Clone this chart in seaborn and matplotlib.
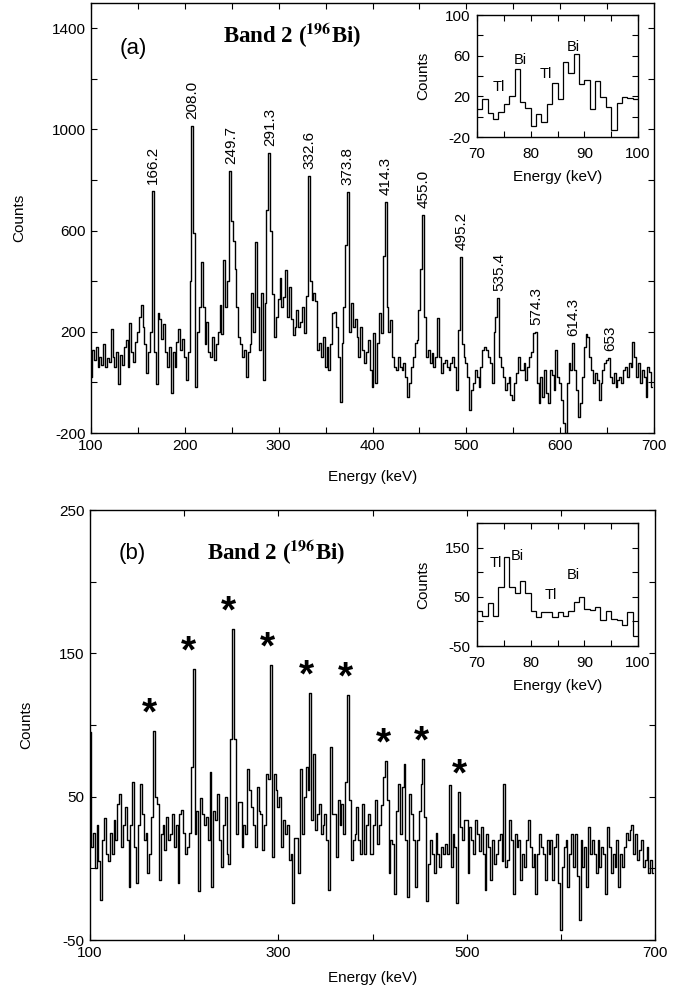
"""Gated gamma spectra of band 2 in 196Bi, with x-ray insets."""

import matplotlib.pyplot as plt
import numpy as np
import pandas as pd
import seaborn as sns
from matplotlib.ticker import FixedLocator, MultipleLocator

# ---- data ---------------------------------------------------------------
# main spectra: 2 keV bins, centres 100..698 keV
energy = np.arange(100, 700, 2)

counts_a = [
    20, 130, 90, 140, 60, 100, 70, 150, 60, 95,
    80, 210, 100, 60, 120, -5, 110, 70, 140, 168,
    60, 233, 120, 80, 160, 200, 260, 305, 220, 150,
    36, 120, 200, 755, 120, -5, 273, 250, 170, 230,
    120, 60, 140, -43, 120, 60, 160, 210, 130, 170,
    100, 10, 120, 400, 1014, 590, -17, 200, 300, 475,
    300, 150, 240, 120, 100, 180, 90, 150, 200, 306,
    190, 484, 300, 400, 836, 640, 560, 450, 300, 180,
    150, 100, 130, 23, 120, 150, 352, 200, 557, 300,
    130, 352, 10, 313, 682, 907, 600, 350, 180, 260,
    330, 412, 300, 339, 445, 260, 379, 250, 188, 221,
    286, 220, 240, 300, 194, 340, 816, 400, 326, 352,
    320, 128, 155, 102, 180, 62, 141, 49, 150, 273,
    280, 221, 100, -76, 155, 300, 543, 754, 200, 313,
    221, 250, 181, 102, 221, 128, 76, 120, 168, 50,
    -17, 194, -3, 155, 273, 194, 500, 715, 300, 200,
    247, 102, 60, 49, 102, 60, 49, 76, 23, -56,
    -3, 60, 102, 155, 168, 286, 450, 662, 260, 102,
    128, 76, 115, 62, 102, 253, 102, 36, 76, 89,
    60, 49, 76, 102, 60, -30, 207, 497, 150, 102,
    76, 23, -109, -30, -3, 49, 20, -17, 62, 128,
    141, 130, 102, 76, -3, 200, 260, 333, 100, 60,
    23, -30, -3, 23, -50, -69, -3, 36, 102, 49,
    49, 76, 10, 62, 102, 120, 194, 201, -3, -83,
    23, -56, 49, -40, -83, 49, 30, -30, 128, 23,
    -3, -69, -162, -200, -3, 76, 49, 156, 49, -30,
    -135, -83, 23, 141, 190, 181, 102, 49, -3, 36,
    10, -69, -3, 49, 76, 89, 97, 23, -3, 36,
    -17, 10, 23, -3, 49, 62, 23, 76, 60, 161,
    102, 23, 76, -3, 49, 23, -56, 60, 40, -20,
]

counts_b = [
    95, 15, 25, 0, 30, 5, -22, 20, 35, 10,
    5, 25, 10, 34, 20, 45, 52, 15, 30, 43,
    20, -13, 30, 60, 15, -10, 30, 59, 38, 20,
    25, -3, 10, 36, 96, 50, 45, -8, 24, 30,
    13, 36, 20, 24, 38, 15, 30, -10, 38, 41,
    25, 10, 15, 25, 71, 139, 24, 40, -16, 49,
    38, 30, 36, 20, 67, -13, 40, 34, 52, 20,
    1, 30, 50, 10, 3, 90, 167, 90, 24, 46,
    46, 15, 30, 24, 69, 55, 43, 30, 15, 57,
    40, 38, 13, 30, 66, 62, 142, 8, 66, 55,
    43, 50, 15, 34, 24, 30, 6, 10, -24, 21,
    21, -3, 69, 24, 50, 71, 55, 122, 34, 80,
    27, 38, 45, 24, 30, 38, 20, -15, 85, 38,
    38, 8, 48, 30, 45, 24, 60, 121, 48, 6,
    20, 24, 43, 20, 10, 45, 10, 30, 38, 10,
    10, 30, 48, 17, 30, 44, 64, 75, 48, -3,
    20, 17, -18, 40, 59, 24, 57, 73, 20, -20,
    52, 38, 20, -13, 20, 40, 59, 76, 36, -23,
    3, 20, 10, -3, 25, 10, 1, 15, 10, 17,
    10, 58, 1, 24, 15, -24, 53, 29, 20, 34,
    34, -3, 29, 20, 10, 34, 24, 12, 29, 10,
    -15, 24, 15, -8, 20, 3, 10, 20, 24, 5,
    59, 1, 6, 34, 20, -18, 24, 15, 20, -8,
    10, 1, 20, 34, 15, 1, 10, -18, 10, 24,
    15, 10, -8, 20, 10, 20, -8, 15, 24, -10,
    -43, 1, 15, 20, -13, 10, 24, 1, 24, -5,
    -36, 20, 1, 15, -13, 29, 10, 20, 10, -3,
    20, 1, 15, 10, -18, 29, 15, -3, 10, 1,
    20, -13, 10, 1, 15, 25, 20, 27, 30, 10,
    24, 6, 13, 20, 1, 6, 15, -3, 6, -3,
]

# x-ray region insets: 1 keV bins from 70 to 100 keV
xray_edges = np.arange(70, 101)
xray_a = [8, 17, 4, -2, 5, 12, 20, 47, 14, 9, -9, 3, -5, 12, 33,
          17, 54, 43, 62, 32, 36, 8, 35, 19, 10, -13, 13, 19, 18, 17]
xray_b = [21, 10, 38, 10, 70, 130, 70, 57, 82, 57, 21, 9, 19, 19, 9,
          19, 10, 21, 39, 50, 25, 23, 30, 2, 21, 5, 2, -8, 19, -30]

peak_labels = ["166.2", "208.0", "249.7", "291.3", "332.6", "373.8", "414.3",
               "455.0", "495.2", "535.4", "574.3", "614.3", "653"]
starred_peaks = [166.2, 208.0, 249.7, 291.3, 332.6, 373.8, 414.3, 455.0, 495.2]

xray_tags_a = [("Tl", 74.0, 29), ("Bi", 78.0, 56), ("Tl", 82.9, 42), ("Bi", 88.0, 69)]
xray_tags_b = [("Tl", 73.5, 118), ("Bi", 77.6, 132), ("Tl", 83.7, 53), ("Bi", 88.0, 95)]

# ---- style ---------------------------------------------------------------
sns.set_style("ticks")
plt.rcParams["font.family"] = ["Liberation Sans", "DejaVu Sans"]
plt.rcParams["axes.unicode_minus"] = False
plt.rcParams["mathtext.fontset"] = "stix"
for key in ["text.color", "axes.labelcolor", "xtick.color", "ytick.color",
            "axes.edgecolor"]:
    plt.rcParams[key] = "black"

W, H = 686, 989
fig = plt.figure(figsize=(W / 100, H / 100), dpi=100)


def box(left, top, right, bottom):
    return [left / W, 1 - bottom / H, (right - left) / W, (bottom - top) / H]


ax_a = fig.add_axes(box(91, 3, 654, 433))
ax_b = fig.add_axes(box(90, 510, 655, 940))
ins_a = fig.add_axes(box(477, 15, 638, 137))
ins_b = fig.add_axes(box(477, 523, 638, 646))


def style(ax, size=11, xpad=4, ypad=4):
    ax.tick_params(which="both", direction="in", top=True, right=True,
                   length=4, width=0.8, labelsize=size)
    ax.tick_params(axis="x", pad=xpad)
    ax.tick_params(axis="y", pad=ypad)
    for sp in ax.spines.values():
        sp.set_linewidth(1.0)


def local_max(counts, e):
    sel = np.abs(energy - e) <= 3.5
    return np.asarray(counts)[sel].max()


# ---- panel (a) -----------------------------------------------------------
df_a = pd.DataFrame({"Energy (keV)": energy, "Counts": counts_a})
sns.lineplot(data=df_a, x="Energy (keV)", y="Counts", ax=ax_a,
             drawstyle="steps-mid", color="black", lw=1.0)
ax_a.set_xlim(100, 700)
ax_a.set_ylim(-200, 1500)
ax_a.xaxis.set_major_locator(MultipleLocator(100))
ax_a.xaxis.set_minor_locator(MultipleLocator(50))
ax_a.yaxis.set_major_locator(FixedLocator([-200, 200, 600, 1000, 1400]))
ax_a.yaxis.set_minor_locator(FixedLocator([0, 400, 800, 1200]))
style(ax_a)
ax_a.set_xlabel("Energy (keV)", fontsize=11)
ax_a.set_ylabel("Counts", fontsize=11)
ax_a.xaxis.set_label_coords(0.5, -0.085)
ax_a.yaxis.set_label_coords(-0.115, 0.5)

for lbl in peak_labels:
    e = float(lbl)
    ax_a.annotate(lbl, xy=(e, local_max(counts_a, e)), xytext=(0, 5),
                  textcoords="offset points", rotation=90,
                  ha="center", va="bottom", fontsize=11)

ax_a.text(0.075, 0.895, "(a)", transform=ax_a.transAxes, fontsize=16,
          ha="center", va="center")
ax_a.text(0.357, 0.925, r"Band 2 ($^{\mathbf{196}}$Bi)", transform=ax_a.transAxes,
          fontsize=16.5, fontweight="bold", family="Liberation Serif",
          ha="center", va="center")

# ---- panel (b) -----------------------------------------------------------
df_b = pd.DataFrame({"Energy (keV)": energy, "Counts": counts_b})
sns.lineplot(data=df_b, x="Energy (keV)", y="Counts", ax=ax_b,
             drawstyle="steps-mid", color="black", lw=1.0)
ax_b.set_xlim(100, 700)
ax_b.set_ylim(-50, 250)
ax_b.xaxis.set_major_locator(FixedLocator([100, 300, 500, 700]))
ax_b.xaxis.set_minor_locator(FixedLocator([200, 400, 600]))
ax_b.yaxis.set_major_locator(FixedLocator([-50, 50, 150, 250]))
ax_b.yaxis.set_minor_locator(FixedLocator([0, 100, 200]))
style(ax_b)
ax_b.set_xlabel("Energy (keV)", fontsize=11)
ax_b.set_ylabel("Counts", fontsize=11)
ax_b.xaxis.set_label_coords(0.5, -0.072)
ax_b.yaxis.set_label_coords(-0.1, 0.5)

for e in starred_peaks:
    ax_b.annotate("*", xy=(e, local_max(counts_b, e)), xytext=(-2, 12),
                  textcoords="offset points", ha="center", va="center",
                  fontsize=28, fontweight="bold")

ax_b.text(0.074, 0.9, "(b)", transform=ax_b.transAxes, fontsize=16,
          ha="center", va="center")
ax_b.text(0.33, 0.9, r"Band 2 ($^{\mathbf{196}}$Bi)", transform=ax_b.transAxes,
          fontsize=16.5, fontweight="bold", family="Liberation Serif",
          ha="center", va="center")

# ---- insets --------------------------------------------------------------
for ax, vals, tags, ylim, major, minor in [
    (ins_a, xray_a, xray_tags_a, (-20, 100), [-20, 20, 60, 100], [0, 40, 80]),
    (ins_b, xray_b, xray_tags_b, (-50, 200), [-50, 50, 150], [0, 100, 200]),
]:
    ax.stairs(vals, xray_edges, color="black", lw=0.9, baseline=None)
    ax.set_xlim(70, 100)
    ax.set_ylim(*ylim)
    ax.xaxis.set_major_locator(MultipleLocator(10))
    ax.xaxis.set_minor_locator(MultipleLocator(5))
    ax.yaxis.set_major_locator(FixedLocator(major))
    ax.yaxis.set_minor_locator(FixedLocator(minor))
    style(ax, xpad=7, ypad=5)
    ax.set_facecolor("white")
    ax.set_xlabel("Energy (keV)", fontsize=11)
    ax.set_ylabel("Counts", fontsize=11)
    ax.xaxis.set_label_coords(0.5, -0.27)
    ax.yaxis.set_label_coords(-0.29, 0.5)
    for txt, x, y in tags:
        ax.text(x, y, txt, fontsize=10.5, ha="center", va="center")

fig.savefig("out.png", dpi=100)
